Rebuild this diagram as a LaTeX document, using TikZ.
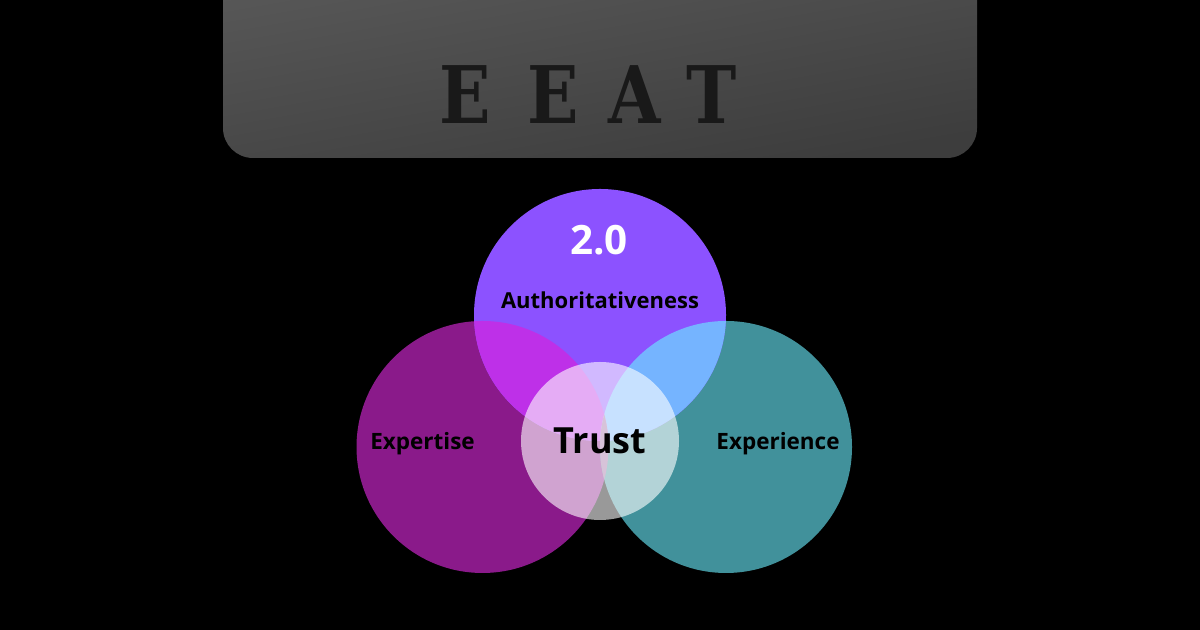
\documentclass[tikz,border=0pt]{standalone}
\usepackage{fontspec}
\setmainfont{Open Sans}
\newfontfamily\titlefont{DejaVu Serif}
\definecolor{topcol}{HTML}{8C52FF}
\definecolor{leftcol}{HTML}{8A1A8A}
\definecolor{rightcol}{HTML}{41919B}
\definecolor{topleft}{HTML}{BE30E8}
\definecolor{topright}{HTML}{75B4FF}
\definecolor{leftright}{HTML}{9C6AA0}
\definecolor{allcol}{HTML}{C078E8}
\begin{document}
\begin{tikzpicture}[x=0.1mm, y=-0.1mm, font=\bfseries]
	\def\rr{126}
	\useasboundingbox (0,0) rectangle (1200,630);
	\fill[black] (0,0) rectangle (1200,630);
	% panel
	\begin{scope}
		\clip (0,0) rectangle (1200,630);
		\shade[shading=axis, top color=black!64, bottom color=black!76, shading angle=10, rounded corners=3mm] (223,-80) rectangle (977,158);
	\end{scope}
	\node[inner sep=0pt, text=black!90, xscale=0.85, transform shape, font=\titlefont\bfseries\fontsize{22.6}{22.6}\selectfont, anchor=base] (title) at (588,124) {E\hspace{1.65mm} E\hspace{0.7mm} A\hspace{0.23mm} T};
	% circles
	\fill[leftcol] (482.5,447) circle[radius=\rr];
	\fill[rightcol] (726,447) circle[radius=\rr];
	\fill[topcol] (600,315) circle[radius=\rr];
	\begin{scope}
		\clip (600,315) circle[radius=\rr];
		\fill[topleft] (482.5,447) circle[radius=\rr];
		\fill[topright] (726,447) circle[radius=\rr];
		\clip (482.5,447) circle[radius=\rr];
		\fill[allcol] (726,447) circle[radius=\rr];
	\end{scope}
	\begin{scope}
		\clip (482.5,447) circle[radius=\rr];
		\clip (726,447) circle[radius=\rr];
		\fill[leftright] (600,480) circle[radius=90];
	\end{scope}
	\fill[white, opacity=0.6] (600,441) circle[radius=79];
	% labels
	\node[text=white, font=\bfseries\fontsize{11.5}{11.5}\selectfont] (twozero) at (599,240) {2.0};
	\node[font=\bfseries\fontsize{6.26}{6.26}\selectfont] (auth) at (600,300) {Authoritativeness};
	\node[font=\bfseries\fontsize{6.4}{6.4}\selectfont] (expertise) at (422.5,443.5) {Expertise};
	\node[font=\bfseries\fontsize{6.4}{6.4}\selectfont] (experience) at (778,443.5) {Experience};
	\node[font=\bfseries\fontsize{10.25}{10.25}\selectfont] (trust) at (600,441) {Trust};
\end{tikzpicture}
\end{document}
